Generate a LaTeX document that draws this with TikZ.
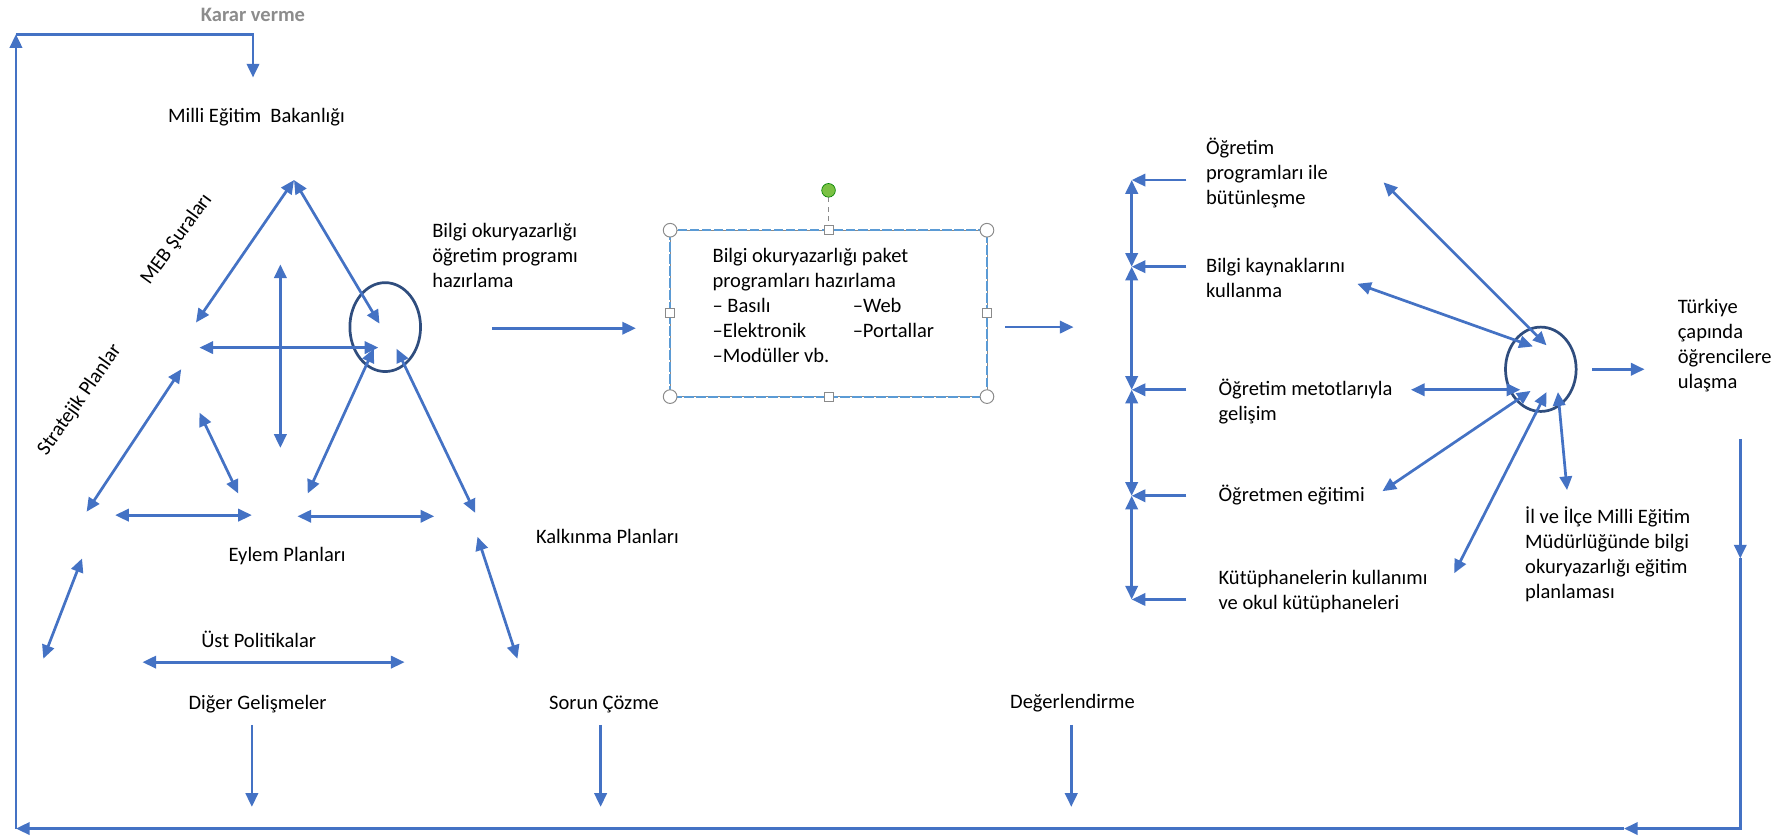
\documentclass[tikz,border=0pt]{standalone}
\usepackage{fontspec}
\setmainfont{Carlito}
\usetikzlibrary{arrows.meta,shapes.geometric,positioning}

\definecolor{okmavi}{HTML}{4472C4}
\definecolor{halkarenk}{HTML}{2F4D7E}
\definecolor{grirenk}{HTML}{8C8C8C}
\definecolor{kuturenk}{HTML}{5B9BD5}
\definecolor{tutamac}{HTML}{8A8A8A}
\definecolor{yesil}{HTML}{7AC143}

\tikzset{
  hat/.style={draw=okmavi, line width=1.7pt},
  cift/.style={hat, <->},
  tek/.style={hat, ->},
  halka/.style={draw=halkarenk, ellipse, line width=1.7pt, minimum width=15.5mm},
  yazi/.style={align=left, anchor=west, inner sep=0pt},
  kose/.style={circle, draw=tutamac, fill=white, line width=0.6pt, minimum size=3mm, inner sep=0pt},
  kare/.style={rectangle, draw=tutamac, fill=white, line width=0.6pt, minimum size=2mm, inner sep=0pt}
}

\begin{document}
\begin{tikzpicture}[x=0.25mm, y=-0.25mm, >={Triangle[length=3mm,width=2.7mm]},
    font=\fontsize{12.8}{15.6}\selectfont]

        \useasboundingbox (0,0) rectangle (1568,734);

        % Döngü
        \node[grirenk, font=\fontsize{12.8}{15.6}\selectfont\bfseries] (karar) at (222,13) {Karar verme};
        \coordinate (sagust) at (1527,385);
        \coordinate (sagorta) at (1527,490);
        \coordinate (sagalt) at (1527,727);
        \coordinate (altok) at (1425,727);
        \coordinate (solalt) at (14,727);
        \coordinate (solust) at (14,30);
        \coordinate (kararkose) at (222,30);
        \coordinate (kararuc) at (222,68);
        \draw[tek] (sagust) -- (sagorta);
        \draw[tek] (sagorta) -- (sagalt) -- (altok);
        \draw[tek] (altok) -- (solalt);
        \draw[tek] (solalt) -- (solust);
        \draw[tek] (solust) -- (kararkose) -- (kararuc);

        % Sol üçgen
        \node (meb) at (225,103) {Milli Eğitim\ \ Bakanlığı};
        \node[rotate=54] (sura) at (155,210) {MEB Şuraları};
        \node[rotate=55] (stratejik) at (70,351) {Stratejik Planlar};
        \node (eylem) at (252,488) {Eylem Planları};
        \node (kalkinma) at (533,471) {Kalkınma Planları};
        \node (ust) at (227,561) {Üst Politikalar};
        \node (diger) at (226,618) {Diğer Gelişmeler};
        \node (sorun) at (530,618) {Sorun Çözme};
        \node (deger) at (941,617) {Değerlendirme};
        \node[halka, minimum height=19.5mm] (halka1) at (338,287) {};

        \coordinate (tepe) at (258,158);
        \coordinate (solkol) at (172,283);
        \coordinate (sagkol) at (333,284);
        \coordinate (orta1) at (175,305);
        \coordinate (orta2) at (332,305);
        \coordinate (dik1) at (246,232);
        \coordinate (dik2) at (246,393);
        \coordinate (str1) at (159,324);
        \coordinate (str2) at (76,449);
        \coordinate (kisa1) at (175,362);
        \coordinate (kisa2) at (209,433);
        \coordinate (eylem1) at (101,452);
        \coordinate (eylem2) at (221,452);
        \coordinate (eylem3) at (261,453);
        \coordinate (eylem4) at (381,453);
        \coordinate (halkasol) at (328,306);
        \coordinate (halkasolalt) at (270,433);
        \coordinate (halkasag) at (348,306);
        \coordinate (halkasagalt) at (417,450);
        \coordinate (kalk1) at (419,471);
        \coordinate (kalk2) at (454,578);
        \coordinate (sp1) at (72,490);
        \coordinate (sp2) at (38,578);
        \coordinate (ust1) at (125,581);
        \coordinate (ust2) at (355,581);

        \draw[cift] (tepe) -- (solkol);
        \draw[cift] (tepe) -- (sagkol);
        \draw[cift] (orta1) -- (orta2);
        \draw[cift] (dik1) -- (dik2);
        \draw[cift] (str1) -- (str2);
        \draw[cift] (kisa1) -- (kisa2);
        \draw[cift] (eylem1) -- (eylem2);
        \draw[cift] (eylem3) -- (eylem4);
        \draw[cift] (halkasol) -- (halkasolalt);
        \draw[cift] (halkasag) -- (halkasagalt);
        \draw[cift] (kalk1) -- (kalk2);
        \draw[cift] (sp1) -- (sp2);
        \draw[cift] (ust1) -- (ust2);

        % Aşağı oklar
        \coordinate (diger2) at (221,708);
        \coordinate (sorun2) at (527,708);
        \coordinate (deger2) at (940,708);
        \draw[tek] (221,636) coordinate (diger1) -- (diger2);
        \draw[tek] (527,636) coordinate (sorun1) -- (sorun2);
        \draw[tek] (940,636) coordinate (deger1) -- (deger2);

        % Orta kutu
        \node[yazi] (program) at (379,224) {Bilgi okuryazarlığı\\öğretim programı\\hazırlama};
        \coordinate (ok1a) at (432,288);
        \coordinate (ok1b) at (558,288);
        \draw[tek] (ok1a) -- (ok1b);

        \coordinate (kutusolust) at (588,202);
        \coordinate (kutusagalt) at (866,348);
        \draw[tutamac, line width=0.5pt] (kutusolust) rectangle (kutusagalt);
        \draw[kuturenk, line width=1.2pt, dash pattern=on 6pt off 1.5pt] (kutusolust) rectangle (kutusagalt);
        \node[yazi] (paket) at (625,268) {Bilgi okuryazarlığı paket\\programları hazırlama\\%
            \makebox[30.75mm][l]{– Basılı}–Web\\\makebox[30.75mm][l]{–Elektronik}–Portallar\\–Modüller vb.};
        \coordinate (donme) at (727,167);
        \draw[tutamac, dashed, line width=0.6pt] (727,173) -- (727,202);
        \node[circle, draw=green!50!black, fill=yesil, minimum size=3mm, inner sep=0pt] (yesilnokta) at (donme) {};
        \foreach \x/\y in {588/202, 866/202, 588/348, 866/348}
            \node[kose] at (\x,\y) {};
        \foreach \x/\y in {727/202, 727/348, 588/275, 866/275}
            \node[kare] at (\x,\y) {};
        \coordinate (ok2a) at (882,287);
        \coordinate (ok2b) at (942,287);
        \draw[tek] (ok2a) -- (ok2b);

        % Sağ taraf
        \node[yazi] (butunlesme) at (1058,152) {Öğretim\\programları ile\\bütünleşme};
        \node[yazi] (kaynak) at (1058,244) {Bilgi kaynaklarını\\kullanma};
        \node[yazi] (metot) at (1069,352) {Öğretim metotlarıyla\\gelişim};
        \node[yazi] (ogretmen) at (1069,434) {Öğretmen eğitimi};
        \node[yazi] (kutuphane) at (1069,519) {Kütüphanelerin kullanımı\\ve okul kütüphaneleri};
        \node[yazi] (turkiye) at (1472,303) {Türkiye\\çapında\\öğrencilere\\ulaşma};
        \node[yazi] (ilce) at (1338,486) {İl ve İlçe Milli Eğitim\\Müdürlüğünde bilgi\\okuryazarlığı eğitim\\planlaması};
        \node[halka, minimum height=18.5mm] (halka2) at (1352,324) {};

        \foreach \i/\y in {1/158, 2/234, 3/342, 4/435, 5/526} {
            \coordinate (cizgi\i) at (993,\y);
            \coordinate (kuyruk\i) at (1041,\y);
            \draw[tek] (kuyruk\i) -- (cizgi\i);
        }
        \foreach \i/\j in {1/2, 2/3, 3/4, 4/5}
            \draw[cift] (cizgi\i) -- (cizgi\j);

        \coordinate (yay1) at (1214,160);
        \coordinate (yay1m) at (1357,303);
        \coordinate (yay2) at (1191,249);
        \coordinate (yay2m) at (1345,304);
        \coordinate (yay3) at (1238,342);
        \coordinate (yay3m) at (1334,342);
        \coordinate (yay4) at (1213,431);
        \coordinate (yay4m) at (1343,343);
        \coordinate (yay5) at (1276,503);
        \coordinate (yay5m) at (1357,344);
        \coordinate (yay6) at (1375,430);
        \coordinate (yay6m) at (1367,344);
        \foreach \i in {1,...,6}
            \draw[cift] (yay\i) -- (yay\i m);

        \coordinate (ok3a) at (1397,324);
        \coordinate (ok3b) at (1443,324);
        \draw[tek] (ok3a) -- (ok3b);

    \end{tikzpicture}
\end{document}
